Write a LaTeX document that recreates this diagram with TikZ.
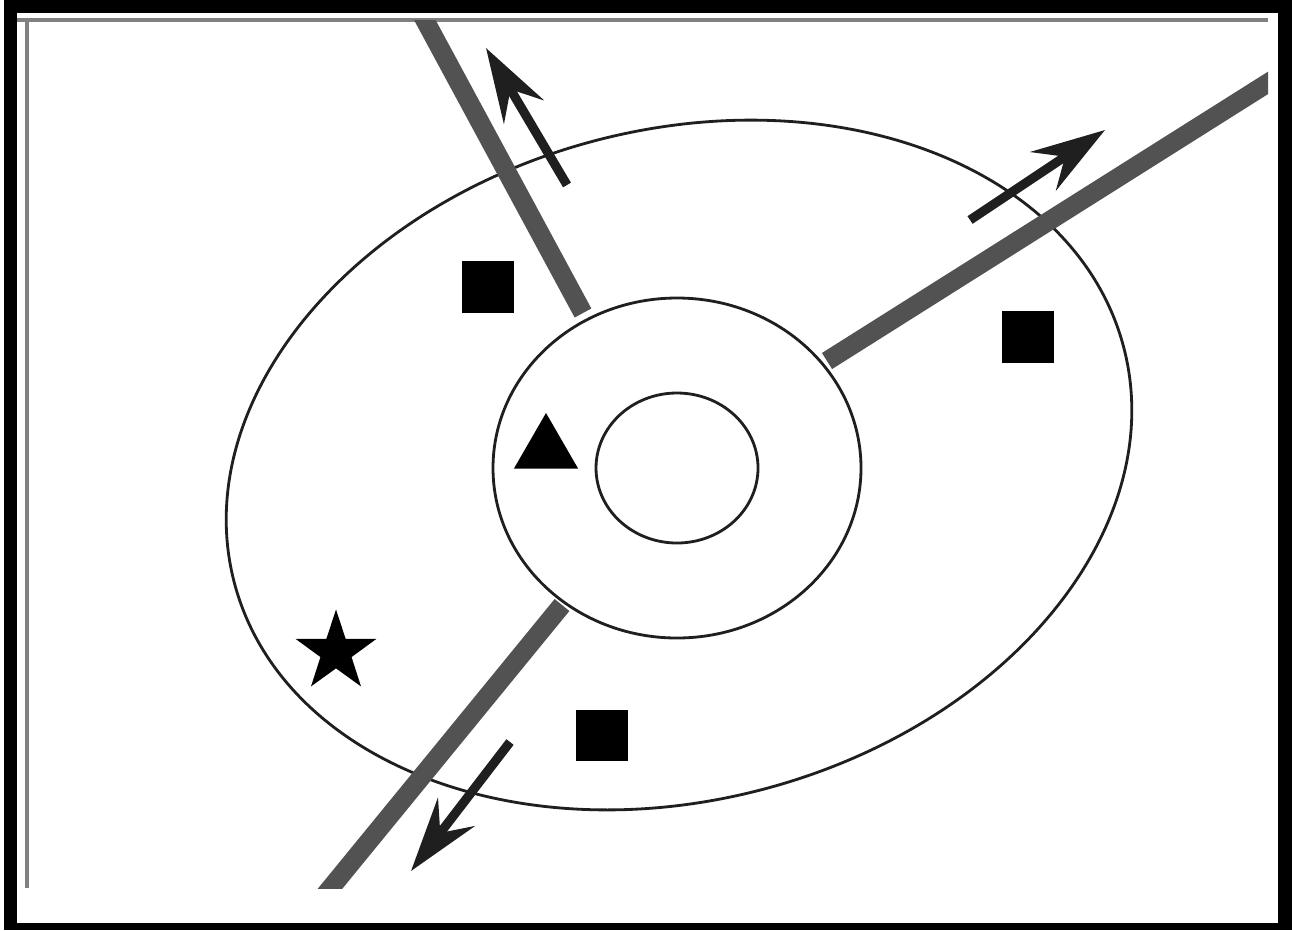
\documentclass[tikz,border=0pt]{standalone}
\usepackage{tikz}
\usetikzlibrary{arrows.meta,shapes.geometric}
\tikzset{
  ray/.style={line width=5.4pt, draw=black!68},
  drift/.style={-{Stealth[length=7.4mm, width=4.6mm, inset=2.6mm]},
    line width=2.6pt, draw=black!88},
  contour/.style={draw=black!88, line width=0.8pt},
  frameline/.style={draw=black!50, line width=0.9pt},
  marker/.style={fill=black, draw=none, inner sep=0pt},
  squaremark/.style={marker, rectangle, minimum width=0.52cm,
    minimum height=0.51cm},
  starmark/.style={marker, star, star points=5, star point ratio=2.6,
    minimum size=0.85cm},
  trimark/.style={marker, regular polygon, regular polygon sides=3,
    minimum size=0.74cm}
}

\begin{document}
\begin{tikzpicture}[x=0.01cm, y=-0.01cm]
  \useasboundingbox (0,0) rectangle (1292,930);
  \fill[black] (4,0) rectangle (1292,930);
  \fill[white] (17,13) rectangle (1278,923);
  \draw[frameline] (17,20) -- (1268,20);
  \draw[frameline] (27,20) -- (27,888);

  % Zones round the core.
  \coordinate (core) at (677,468);
  \draw[contour, rotate around={15:(679,465)}] (679,465) ellipse (460 and 335);
  \draw[contour] (core) ellipse (184 and 170);
  \draw[contour] (core) ellipse (81 and 75);

  % Rays leaving the ring.
  \coordinate (rayA0) at (583,313);
  \coordinate (rayA1) at (414,0);
  \coordinate (rayB0) at (827,361);
  \coordinate (rayB1) at (1290,69);
  \coordinate (rayC0) at (562,605);
  \coordinate (rayC1) at (311,912);
  \begin{scope}
    \clip (27,20) rectangle (1268,888);
    \draw[ray] (rayA0) -- (rayA1);
    \draw[ray] (rayB0) -- (rayB1);
    \draw[ray] (rayC0) -- (rayC1);
  \end{scope}

  \coordinate (tailA) at (567,185);
  \coordinate (tipA) at (486,48);
  \coordinate (tailB) at (970,220);
  \coordinate (tipB) at (1105,130);
  \coordinate (tailC) at (510,742);
  \coordinate (tipC) at (411,871);
  \draw[drift] (tailA) -- (tipA);
  \draw[drift] (tailB) -- (tipB);
  \draw[drift] (tailC) -- (tipC);

  \node[squaremark] (sqNW) at (488,287) {};
  \node[squaremark] (sqE) at (1028,337) {};
  \node[squaremark] (sqS) at (602,735) {};
  \node[trimark] (tri) at (546,450) {};
  \node[starmark] (star) at (336,652) {};
\end{tikzpicture}
\end{document}
